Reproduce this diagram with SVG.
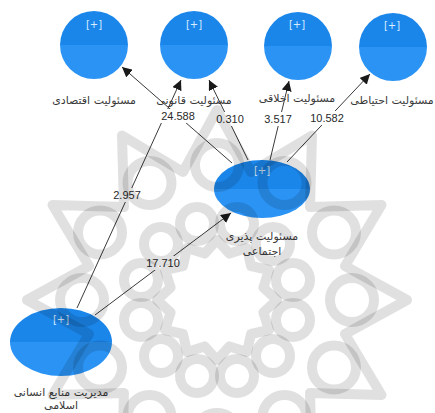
<svg xmlns="http://www.w3.org/2000/svg" width="435" height="413" viewBox="0 0 435 413">
  <defs>
    <style>
      .node { stroke: none; }
      .plus { font-family: "DejaVu Sans", sans-serif; font-size: 10px; fill: #d6ecff; text-anchor: middle; }
      .lbl { font-family: "DejaVu Sans", sans-serif; font-size: 11px; fill: #3a3a3a; text-anchor: middle; }
      .num { font-family: "Liberation Sans", Arial, sans-serif; font-size: 11px; fill: #2a2a2a; text-anchor: middle; }
      .numbg { fill: #ffffff; }
      .edge { stroke: #3a3a3a; stroke-width: 1; fill: none; marker-end: url(#arrow); }
      .wm { fill: none; stroke: #000000; stroke-opacity: 0.12; stroke-width: 10; stroke-linejoin: round; }
    </style>
    <linearGradient id="split" x1="0" y1="0" x2="0" y2="1">
      <stop offset="0" stop-color="#1b86ea"/>
      <stop offset="0.5" stop-color="#1b86ea"/>
      <stop offset="0.5" stop-color="#2a93f4"/>
      <stop offset="1" stop-color="#2a93f4"/>
    </linearGradient>
    <marker id="arrow" viewBox="0 0 10 10" refX="10" refY="5" markerWidth="10" markerHeight="10" markerUnits="userSpaceOnUse" orient="auto">
      <path d="M0,0 L10,5 L0,10 Z" fill="#1a1a1a"/>
    </marker>
  </defs>

  <rect width="435" height="413" fill="#ffffff"/>

  <!-- connectors -->
  <g id="connectors">
    <line class="edge" x1="232" y1="163" x2="122" y2="67"/>
    <line class="edge" x1="248" y1="160" x2="209" y2="80"/>
    <line class="edge" x1="270" y1="160" x2="289" y2="81"/>
    <line class="edge" x1="287" y1="162" x2="370" y2="74"/>
    <line class="edge" x1="77" y1="308" x2="181" y2="80"/>
    <line class="edge" x1="95" y1="315" x2="231" y2="213"/>

    <rect class="numbg" x="159" y="109" width="38" height="14"/>
    <text class="num" x="178" y="120">24.588</text>
    <rect class="numbg" x="215" y="112" width="30" height="14"/>
    <text class="num" x="230" y="123">0.310</text>
    <rect class="numbg" x="263" y="112" width="30" height="14"/>
    <text class="num" x="278" y="123">3.517</text>
    <rect class="numbg" x="308" y="111" width="38" height="14"/>
    <text class="num" x="327" y="122">10.582</text>
    <rect class="numbg" x="112" y="188" width="30" height="14"/>
    <text class="num" x="127" y="199">2.957</text>
    <rect class="numbg" x="144" y="256" width="38" height="14"/>
    <text class="num" x="163" y="267">17.710</text>
  </g>

  <!-- outcome constructs -->
  <g id="eco">
    <circle class="node" cx="94" cy="45" r="34" fill="url(#split)"/>
    <text class="plus" x="94" y="28">[+]</text>
    <text class="lbl" x="94" y="104">مسئولیت اقتصادی</text>
  </g>
  <g id="legal">
    <circle class="node" cx="194" cy="45" r="34" fill="url(#split)"/>
    <text class="plus" x="194" y="28">[+]</text>
    <text class="lbl" x="194" y="104">مسئولیت قانونی</text>
  </g>
  <g id="ethical">
    <circle class="node" cx="298" cy="46" r="34" fill="url(#split)"/>
    <text class="plus" x="297" y="28">[+]</text>
    <text class="lbl" x="297" y="102">مسئولیت اخلاقی</text>
  </g>
  <g id="precaution">
    <circle class="node" cx="393" cy="47" r="34" fill="url(#split)"/>
    <text class="plus" x="392" y="29">[+]</text>
    <text class="lbl" x="392" y="104">مسئولیت احتیاطی</text>
  </g>

  <!-- mediator -->
  <g id="csr">
    <ellipse class="node" cx="262" cy="189" rx="48" ry="29" fill="url(#split)"/>
    <text class="plus" x="262" y="174">[+]</text>
    <text class="lbl" x="262" y="240">مسئولیت پذیری</text>
    <text class="lbl" x="262" y="255">اجتماعی</text>
  </g>

  <!-- predictor -->
  <g id="ihrm">
    <ellipse class="node" cx="61" cy="342" rx="51" ry="34" fill="url(#split)"/>
    <text class="plus" x="61" y="323">[+]</text>
    <text class="lbl" x="61" y="396">مدیریت منابع انسانی</text>
    <text class="lbl" x="61" y="409">اسلامی</text>
  </g>

  <!-- background rosette, drawn translucent over everything -->
  <g id="rosette" transform="translate(217,300)">
    <polygon class="wm" points="0,-190 34,-128 95,-164.5 93,-93 164.5,-95 128,-34 190,0 128,34 164.5,95 93,93 95,164.5 34,128 0,190 -34,128 -95,164.5 -93,93 -164.5,95 -128,34 -190,0 -128,-34 -164.5,-95 -93,-93 -95,-164.5 -34,-128"/>
    <polygon class="wm" points="0,-60 12.4,-46.4 30,-52 34,-34 52,-30 46.4,-12.4 60,0 46.4,12.4 52,30 34,34 30,52 12.4,46.4 0,60 -12.4,46.4 -30,52 -34,34 -52,30 -46.4,12.4 -60,0 -46.4,-12.4 -52,-30 -34,-34 -30,-52 -12.4,-46.4"/>
    <g class="wm">
      <circle cx="0" cy="-135" r="22"/>
      <circle cx="67.5" cy="-117" r="22"/>
      <circle cx="117" cy="-67.5" r="22"/>
      <circle cx="135" cy="0" r="22"/>
      <circle cx="117" cy="67.5" r="22"/>
      <circle cx="67.5" cy="117" r="22"/>
      <circle cx="0" cy="135" r="22"/>
      <circle cx="-67.5" cy="117" r="22"/>
      <circle cx="-117" cy="67.5" r="22"/>
      <circle cx="-135" cy="0" r="22"/>
      <circle cx="-117" cy="-67.5" r="22"/>
      <circle cx="-67.5" cy="-117" r="22"/>
      <circle cx="20" cy="-76" r="17"/>
      <circle cx="56" cy="-56" r="17"/>
      <circle cx="76" cy="-20" r="17"/>
      <circle cx="76" cy="20" r="17"/>
      <circle cx="56" cy="56" r="17"/>
      <circle cx="20" cy="76" r="17"/>
      <circle cx="-20" cy="76" r="17"/>
      <circle cx="-56" cy="56" r="17"/>
      <circle cx="-76" cy="20" r="17"/>
      <circle cx="-76" cy="-20" r="17"/>
      <circle cx="-56" cy="-56" r="17"/>
      <circle cx="-20" cy="-76" r="17"/>
    </g>
  </g>
</svg>
